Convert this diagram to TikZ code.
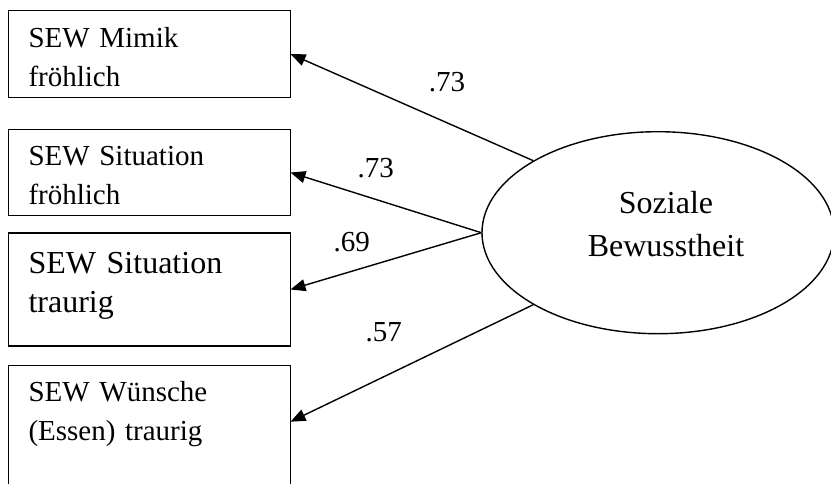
\documentclass[tikz,border=0pt]{standalone}
\usepackage{fontspec}
\setmainfont{Liberation Serif}
\usetikzlibrary{arrows.meta,positioning,shapes.geometric}

\begin{document}
\begin{tikzpicture}[
  x=1pt, y=-1pt,
  item/.style={draw, rectangle, line width=1.4pt, anchor=north west, outer sep=0pt,
    inner xsep=20pt, inner ysep=0pt, text width=242pt, align=left,
    font=\fontsize{29}{39}\selectfont},
  latent/.style={draw, ellipse, line width=1.4pt, minimum width=352pt, minimum height=202pt,
    inner sep=0pt, align=center, font=\fontsize{32}{43}\selectfont},
  arrow/.style={-{Triangle[length=15pt,width=12pt]}, line width=1.4pt},
  loading/.style={anchor=base, inner sep=0pt, font=\fontsize{29}{35}\selectfont}
]
\useasboundingbox (0,0) rectangle (831,483);
% indicators
\node[item, text height=37pt, text depth=50pt] (mimik) at (8.5,10.5) {SEW Mimik\\fröhlich};
\node[item, text height=36pt, text depth=50pt] (sitfroh) at (8.5,129.5) {SEW Situation\\fröhlich};
\node[item, text height=40pt, text depth=73pt, font=\fontsize{32}{39.5}\selectfont] (sittraurig) at (8.5,233) {SEW Situation\\traurig};
\node[item, text height=36pt, text depth=84pt] (wuensche) at (8.5,365.7) {SEW Wünsche\\(Essen) traurig};
% latent factor
\node[latent, text height=70pt, text depth=22pt] (soz) at (658,232.7) {\hspace*{16pt}Soziale\\\hspace*{16pt}Bewusstheit};
% loadings
\draw[arrow] (soz.150) -- (mimik.east);
\draw[arrow] (soz.west) -- (sitfroh.east);
\draw[arrow] (soz.west) -- (sittraurig.east);
\draw[arrow] (soz.210) -- ([yshift=4pt]wuensche.east);
\node[loading] (l1) at (447,91.7) {.73};
\node[loading] (l2) at (375.7,177.3) {.73};
\node[loading] (l3) at (351.8,251.7) {.69};
\node[loading] (l4) at (383.8,341) {.57};
\end{tikzpicture}
\end{document}
